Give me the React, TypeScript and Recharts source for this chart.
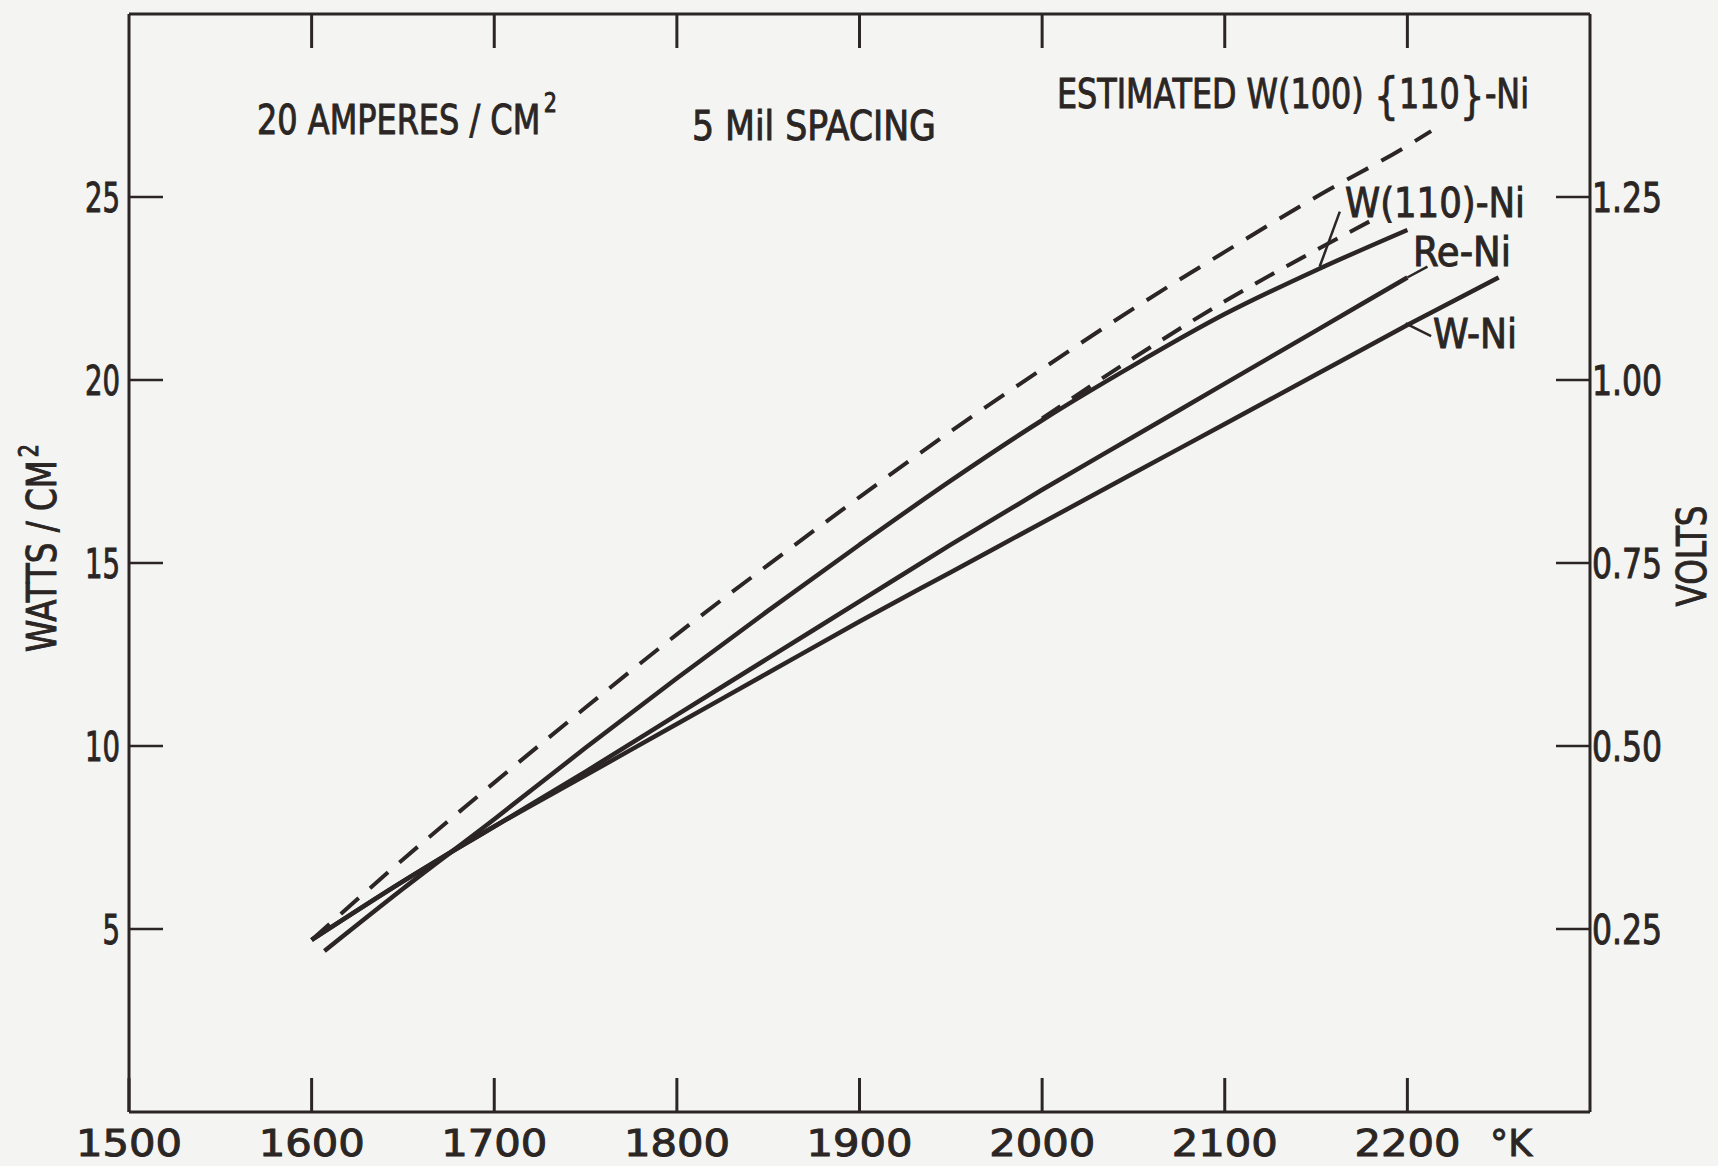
import React from "react";
import { LineChart, Line, XAxis, YAxis, ReferenceLine } from "recharts";

// ---- data ----
const estW100Temp = [1600, 1650, 1700, 1750, 1800, 1850, 1900, 1950, 2000, 2050, 2100, 2150, 2200, 2213];
const estW100Watts = [4.7, 6.9, 9.0, 11.05, 13.05, 14.95, 16.8, 18.6, 20.3, 21.95, 23.5, 25.0, 26.4, 26.8];

const estW110Temp = [2000, 2050, 2100, 2150, 2180];
const estW110Watts = [18.95, 20.6, 22.15, 23.55, 24.35];

const w110Temp = [1607, 1650, 1700, 1750, 1800, 1850, 1900, 1950, 2000, 2050, 2100, 2150, 2200];
const w110Watts = [4.4, 6.1, 8.0, 9.95, 11.85, 13.7, 15.5, 17.25, 18.9, 20.4, 21.8, 23.0, 24.1];

const reNiTemp = [1600, 1650, 1700, 1750, 1800, 1850, 1900, 1950, 2000, 2050, 2100, 2150, 2200];
const reNiWatts = [4.7, 6.3, 7.8, 9.3, 10.85, 12.4, 13.95, 15.5, 17.0, 18.45, 19.9, 21.35, 22.8];

const wNiTemp = [1600, 1650, 1700, 1750, 1800, 1850, 1900, 1950, 2000, 2050, 2100, 2150, 2200, 2250];
const wNiWatts = [4.7, 6.3, 7.8, 9.2, 10.6, 12.0, 13.4, 14.75, 16.1, 17.45, 18.8, 20.15, 21.5, 22.8];

const xTicks = [1500, 1600, 1700, 1800, 1900, 2000, 2100, 2200];
const xTopTicks = [1600, 1700, 1800, 1900, 2000, 2100, 2200];
const wattTicks = [5, 10, 15, 20, 25];
const voltTicks = [0.25, 0.5, 0.75, 1.0, 1.25];
const voltLabels = ["0.25", "0.50", "0.75", "1.00", "1.25"];

// annotation leader segments [temp, watts]
const leaderW110 = [[2163, 24.6], [2152, 23.1]];
const leaderReNi = [[2211, 23.1], [2200, 22.8]];
const leaderWNi = [[2213, 21.2], [2199, 21.55]];

const toData = (t: number[], w: number[]) => t.map((x, i) => ({ t: x, w: w[i] }));

const INK = "#2b2624";
const FONT = "'DejaVu Sans Condensed', 'DejaVu Sans', sans-serif";
const TICK = 34;
const heavy = { stroke: INK, strokeWidth: 0.9 } as const;

const BottomTick = (props: any) => {
  const { x, y, payload } = props;
  return (
    <g>
      <line x1={x} y1={y} x2={x} y2={y - TICK} stroke={INK} strokeWidth={3} />
      <text x={x} y={y + 44} textAnchor="middle" fill={INK} fontSize={38} fontFamily={FONT}
        textLength={106} lengthAdjust="spacingAndGlyphs" {...heavy}>
        {payload.value}
      </text>
    </g>
  );
};

const TopTick = (props: any) => {
  const { x, y } = props;
  return <line x1={x} y1={y} x2={x} y2={y + TICK} stroke={INK} strokeWidth={3} />;
};

const LeftTick = (props: any) => {
  const { x, y, payload } = props;
  const s = String(payload.value);
  return (
    <g>
      <line x1={x} y1={y} x2={x + TICK} y2={y} stroke={INK} strokeWidth={2.5} />
      <text x={x - 9} y={y + 15} textAnchor="end" fill={INK} fontSize={40} fontFamily={FONT}
        textLength={s.length * 17.5} lengthAdjust="spacingAndGlyphs" {...heavy}>
        {s}
      </text>
    </g>
  );
};

const RightTick = (props: any) => {
  const { x, y, payload, index } = props;
  return (
    <g>
      <line x1={x} y1={y} x2={x - TICK} y2={y} stroke={INK} strokeWidth={2.5} />
      <text x={x + 2} y={y + 15} textAnchor="start" fill={INK} fontSize={40} fontFamily={FONT}
        textLength={70} lengthAdjust="spacingAndGlyphs" {...heavy}>
        {voltLabels[voltTicks.indexOf(payload.value)] ?? voltLabels[index]}
      </text>
    </g>
  );
};

const txt = { fill: INK, fontFamily: FONT, fontSize: 40, ...heavy, lengthAdjust: "spacingAndGlyphs" } as const;

export default function App() {
  return (
    <div style={{ position: "absolute", left: 0, top: 0, width: 1718, height: 1166, background: "#f4f4f2" }}>
      <LineChart
        width={1718}
        height={1166}
        margin={{ top: 13, right: 28, bottom: 4, left: 29 }}
      >
        <XAxis
          xAxisId="b"
          type="number"
          dataKey="t"
          domain={[1500, 2300]}
          ticks={xTicks}
          interval={0}
          height={50}
          tickSize={0}
          tickMargin={0}
          tickLine={false}
          tick={<BottomTick />}
          axisLine={{ stroke: INK, strokeWidth: 3 }}
          allowDataOverflow
        />
        <XAxis
          xAxisId="t"
          orientation="top"
          type="number"
          dataKey="t"
          domain={[1500, 2300]}
          ticks={xTopTicks}
          interval={0}
          height={1}
          tickSize={0}
          tickMargin={0}
          tickLine={false}
          tick={<TopTick />}
          axisLine={{ stroke: INK, strokeWidth: 3 }}
          allowDataOverflow
        />
        <YAxis
          yAxisId="w"
          type="number"
          domain={[0, 30]}
          ticks={wattTicks}
          interval={0}
          width={100}
          tickSize={0}
          tickMargin={0}
          tickLine={false}
          tick={<LeftTick />}
          axisLine={{ stroke: INK, strokeWidth: 3 }}
          allowDataOverflow
        />
        <YAxis
          yAxisId="v"
          orientation="right"
          type="number"
          domain={[0, 1.5]}
          ticks={voltTicks}
          interval={0}
          width={100}
          tickSize={0}
          tickMargin={0}
          tickLine={false}
          tick={<RightTick />}
          axisLine={{ stroke: INK, strokeWidth: 3 }}
          allowDataOverflow
        />
        <Line xAxisId="b" yAxisId="w" data={toData(estW100Temp, estW100Watts)} dataKey="w" type="monotone"
          stroke={INK} strokeWidth={4} strokeDasharray="24 15" dot={false} isAnimationActive={false} />
        <Line xAxisId="b" yAxisId="w" data={toData(estW110Temp, estW110Watts)} dataKey="w" type="monotone"
          stroke={INK} strokeWidth={4} strokeDasharray="22 14" dot={false} isAnimationActive={false} />
        <Line xAxisId="b" yAxisId="w" data={toData(w110Temp, w110Watts)} dataKey="w" type="monotone"
          stroke={INK} strokeWidth={4.5} dot={false} isAnimationActive={false} />
        <Line xAxisId="b" yAxisId="w" data={toData(reNiTemp, reNiWatts)} dataKey="w" type="monotone"
          stroke={INK} strokeWidth={4.5} dot={false} isAnimationActive={false} />
        <Line xAxisId="b" yAxisId="w" data={toData(wNiTemp, wNiWatts)} dataKey="w" type="monotone"
          stroke={INK} strokeWidth={4.5} dot={false} isAnimationActive={false} />
        {[leaderW110, leaderReNi, leaderWNi].map((seg, i) => (
          <ReferenceLine key={i} xAxisId="b" yAxisId="w" stroke={INK} strokeWidth={2.5}
            segment={[{ x: seg[0][0], y: seg[0][1] }, { x: seg[1][0], y: seg[1][1] }]} />
        ))}
      </LineChart>
      <svg width={1718} height={1166} style={{ position: "absolute", left: 0, top: 0, pointerEvents: "none" }}>
        <text x={257} y={134} {...txt} textLength={300}>
          20 AMPERES / CM<tspan dx={4} dy={-22} fontSize={26}>2</tspan>
        </text>
        <text x={692} y={140} {...txt} textLength={244}>5 Mil SPACING</text>
        <text x={1057} y={108} {...txt} textLength={472}>
          ESTIMATED W(100) <tspan dy={5} fontSize={50} strokeWidth={0.5}>{"{"}</tspan>
          <tspan dy={-5}>110</tspan>
          <tspan dy={5} fontSize={50} strokeWidth={0.5}>{"}"}</tspan>
          <tspan dy={-5}>-Ni</tspan>
        </text>
        <text x={1345} y={217} {...txt} textLength={180}>W(110)-Ni</text>
        <text x={1413} y={266} {...txt} textLength={98}>Re-Ni</text>
        <text x={1433} y={348} {...txt} textLength={84}>W-Ni</text>
        <text x={1490} y={1156} {...txt} fontSize={38} textLength={42}>°K</text>
        <text transform="translate(56,652) rotate(-90)" {...txt} textLength={208}>
          WATTS / CM<tspan dx={3} dy={-18} fontSize={26}>2</tspan>
        </text>
        <text transform="translate(1706,556) rotate(-90)" textAnchor="middle" {...txt} textLength={101}>VOLTS</text>
      </svg>
    </div>
  );
}
